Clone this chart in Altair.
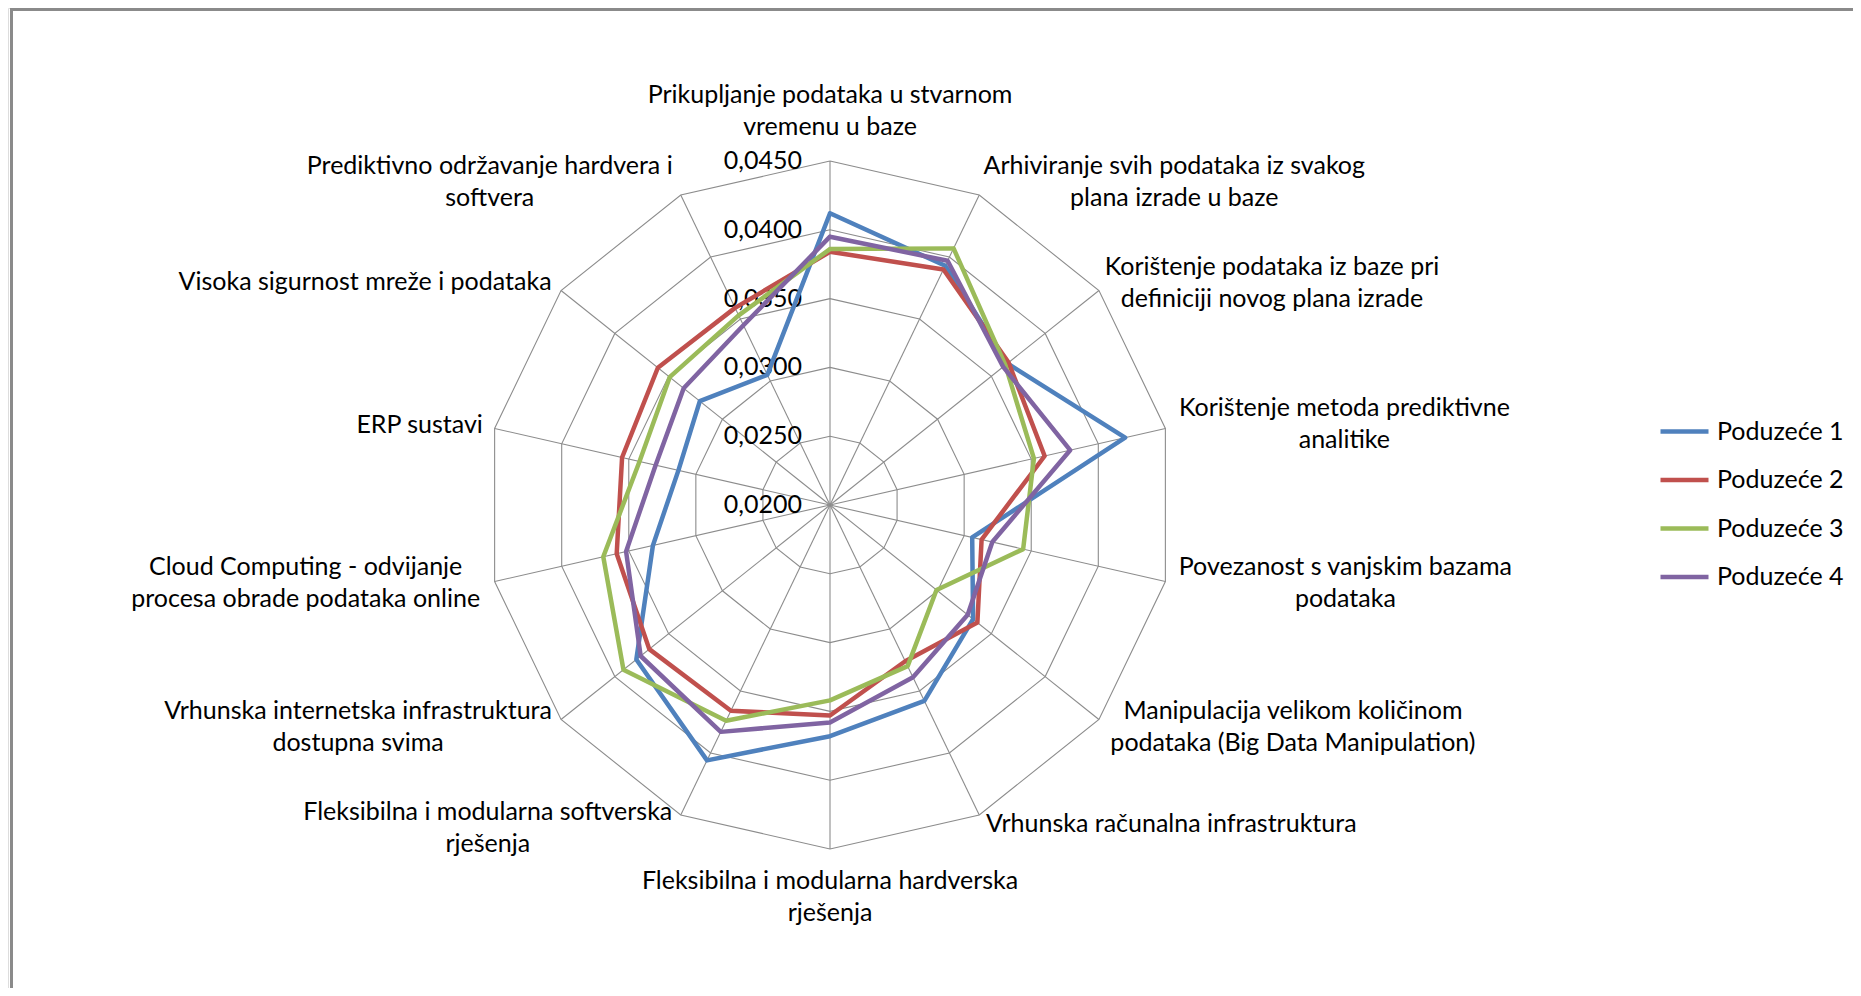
import math
import altair as alt
import pandas as pd

# ---------------- data ----------------
categories = [
    "Prikupljanje podataka u stvarnom\nvremenu u baze",
    "Arhiviranje svih podataka iz svakog\nplana izrade u baze",
    "Korištenje podataka iz baze pri\ndefiniciji novog plana izrade",
    "Korištenje metoda prediktivne\nanalitike",
    "Povezanost s vanjskim bazama\npodataka",
    "Manipulacija velikom količinom\npodataka (Big Data Manipulation)",
    "Vrhunska računalna infrastruktura",
    "Fleksibilna i modularna hardverska\nrješenja",
    "Fleksibilna i modularna softverska\nrješenja",
    "Vrhunska internetska infrastruktura\ndostupna svima",
    "Cloud Computing - odvijanje\nprocesa obrade podataka online",
    "ERP sustavi",
    "Visoka sigurnost mreže i podataka",
    "Prediktivno održavanje hardvera i\nsoftvera",
]

series_names = ["Poduzeće 1", "Poduzeće 2", "Poduzeće 3", "Poduzeće 4"]
poduzece_1 = [0.0412, 0.0393, 0.0365, 0.0420, 0.0306, 0.0333, 0.0358,
              0.0368, 0.0406, 0.0380, 0.0332, 0.0313, 0.0321, 0.0305]
poduzece_2 = [0.0384, 0.0390, 0.0366, 0.0360, 0.0313, 0.0337, 0.0326,
              0.0353, 0.0366, 0.0368, 0.0359, 0.0355, 0.0360, 0.0359]
poduzece_3 = [0.0386, 0.0407, 0.0363, 0.0352, 0.0344, 0.0299, 0.0330,
              0.0342, 0.0374, 0.0392, 0.0369, 0.0342, 0.0349, 0.0353]
poduzece_4 = [0.0395, 0.0397, 0.0361, 0.0379, 0.0321, 0.0328, 0.0339,
              0.0358, 0.0383, 0.0376, 0.0352, 0.0330, 0.0336, 0.0345]
series_values = [poduzece_1, poduzece_2, poduzece_3, poduzece_4]

tick_values = [0.0200, 0.0250, 0.0300, 0.0350, 0.0400, 0.0450]
tick_labels = ["0,0200", "0,0250", "0,0300", "0,0350", "0,0400", "0,0450"]

colors = ["#4F81BD", "#C0504D", "#9BBB59", "#8064A2"]

# ---------------- layout ----------------
W, H = 1845, 980          # plot area (whole page minus margins)
CX, CY = 822, 497         # centre of radar in plot pixels
R = 344                   # outer radius in pixels
RMIN, RMAX = tick_values[0], tick_values[-1]
N = len(categories)
FONT = "Lato"
FS = 25
LH = 32

# label block-centre offsets (px) from the outer vertex of each spoke
label_offsets = [
    (0, -50), (195, -13), (173, -8), (179, -4), (180, 1), (194, 8), (192, 9),
    (0, 48), (-193, 13), (-203, 8), (-189, 1), (-75, -3), (-196, -9), (-191, -13),
]
# first-line offsets (Vega puts the first line at the anchor)
first_line_dy = [
    o[1] - (c.count("\n")) * LH / 2 for o, c in zip(label_offsets, categories)
]

xdom = [-CX / R, (W - CX) / R]
ydom = [-(H - CY) / R, CY / R]
xs = alt.Scale(domain=xdom, nice=False, zero=False)
ys = alt.Scale(domain=ydom, nice=False, zero=False)

# series table (closed polygons)
rows = []
for name, vals in zip(series_names, series_values):
    for k in range(N + 1):
        rows.append({"series": name, "k": k, "value": vals[k % N]})
df = pd.DataFrame(rows)

# grid rings
ring_rows = []
for lv in tick_values[1:]:
    for k in range(N + 1):
        ring_rows.append({"level": lv, "k": k})
rings_df = pd.DataFrame(ring_rows)

spokes_df = pd.DataFrame({"k": list(range(N))})
ticks_df = pd.DataFrame({"value": tick_values, "label": tick_labels})

lab_df = pd.DataFrame({
    "k": list(range(N)),
    "label": categories,
    "ox": [o[0] / R for o in label_offsets],
    "oy": [-d / R for d in first_line_dy],
})

ang = "datum.k * 2 * PI / %d" % N
radius = "(datum.value - %f) / %f" % (RMIN, RMAX - RMIN)

grid_color = "#8C8C8C"

rings = alt.Chart(rings_df).transform_calculate(
    r=f"(datum.level - {RMIN}) / {RMAX - RMIN}",
    px=f"datum.r * sin({ang})",
    py=f"datum.r * cos({ang})",
).mark_line(color=grid_color, strokeWidth=1.1).encode(
    x=alt.X("px:Q", scale=xs, axis=None),
    y=alt.Y("py:Q", scale=ys, axis=None),
    detail="level:N",
    order="k:Q",
)

spokes = alt.Chart(spokes_df).transform_calculate(
    x0="0", y0="0",
    px=f"sin({ang})",
    py=f"cos({ang})",
).mark_rule(color=grid_color, strokeWidth=1.1).encode(
    x=alt.X("x0:Q", scale=xs, axis=None),
    y=alt.Y("y0:Q", scale=ys, axis=None),
    x2="px:Q",
    y2="py:Q",
)

lines = alt.Chart(df).transform_calculate(
    r=radius,
    px=f"datum.r * sin({ang})",
    py=f"datum.r * cos({ang})",
).mark_line(strokeWidth=4.5, strokeJoin="round", strokeCap="round").encode(
    x=alt.X("px:Q", scale=xs, axis=None),
    y=alt.Y("py:Q", scale=ys, axis=None),
    color=alt.Color(
        "series:N",
        scale=alt.Scale(domain=series_names, range=colors),
        legend=alt.Legend(
            title=None, orient="none", legendX=1650, legendY=397,
            symbolType="stroke", symbolSize=2304, symbolStrokeWidth=4.5,
            labelFont=FONT, labelFontSize=FS, labelColor="#000000",
            labelOffset=6, rowPadding=8.5, padding=0,
        ),
    ),
    order="k:Q",
)

ticks = alt.Chart(ticks_df).transform_calculate(
    x0="0",
    py=radius,
).mark_text(align="right", baseline="middle", dx=-28, font=FONT,
            fontSize=FS, color="#000000").encode(
    x=alt.X("x0:Q", scale=xs, axis=None),
    y=alt.Y("py:Q", scale=ys, axis=None),
    text="label:N",
)

labels = alt.Chart(lab_df).transform_calculate(
    px=f"sin({ang}) + datum.ox",
    py=f"cos({ang}) + datum.oy",
).mark_text(align="center", baseline="middle", lineBreak="\n",
            lineHeight=LH, font=FONT, fontSize=FS, color="#000000").encode(
    x=alt.X("px:Q", scale=xs, axis=None),
    y=alt.Y("py:Q", scale=ys, axis=None),
    text="label:N",
)

border_left = alt.Chart(ticks_df).mark_rule(color="#8A8A8A", strokeWidth=2.5).encode(
    x=alt.value(3.5), y=alt.value(0), y2=alt.value(H)
)
border_top = alt.Chart(ticks_df).mark_rule(color="#8A8A8A", strokeWidth=2.5).encode(
    y=alt.value(1.2), x=alt.value(2.3), x2=alt.value(W)
)

chart = alt.layer(
    rings, spokes, ticks, lines, labels, border_left, border_top
).properties(
    width=W, height=H,
    autosize=alt.AutoSizeParams(type="none"),
    padding=0,
).configure_view(stroke=None).configure(background="white")

chart.save("out.html", embed_options={"renderer": "svg", "actions": False})
